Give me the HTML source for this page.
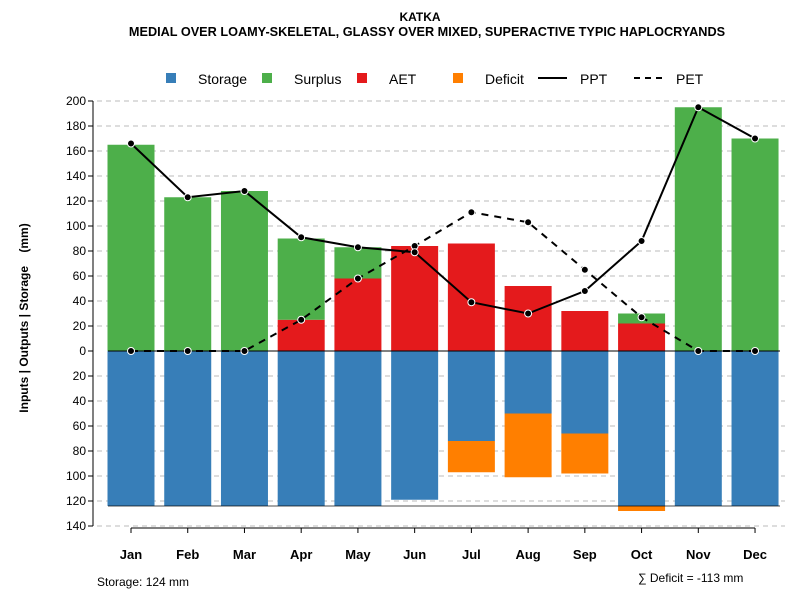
<!DOCTYPE html>
<html><head><meta charset="utf-8"><style>
body{margin:0;background:#fff;}
svg text{font-family:"Liberation Sans",Arial,sans-serif;}
</style></head><body>
<svg id="chart" width="800" height="600" xmlns="http://www.w3.org/2000/svg">
<text x="420" y="21" text-anchor="middle" font-size="12" font-weight="bold">KATKA</text>
<text x="427" y="36" text-anchor="middle" font-size="12.7" font-weight="bold">MEDIAL OVER LOAMY-SKELETAL, GLASSY OVER MIXED, SUPERACTIVE TYPIC HAPLOCRYANDS</text>
<g id="legend">
<rect x="166" y="73" width="10" height="10" fill="#377EB8"/>
<text x="198" y="84" font-size="14">Storage</text>
<rect x="262" y="73" width="10" height="10" fill="#4DAF4A"/>
<text x="294" y="84" font-size="14">Surplus</text>
<rect x="357" y="73" width="10" height="10" fill="#E41A1C"/>
<text x="389" y="84" font-size="14">AET</text>
<rect x="453" y="73" width="10" height="10" fill="#FF7F00"/>
<text x="485" y="84" font-size="14">Deficit</text>
<line x1="538" y1="78" x2="567" y2="78" stroke="#000" stroke-width="2"/>
<text x="580" y="84" font-size="14">PPT</text>
<line x1="634" y1="78" x2="663" y2="78" stroke="#000" stroke-width="2" stroke-dasharray="6,5"/>
<text x="676" y="84" font-size="14">PET</text>
</g>
<text transform="translate(28,318) rotate(-90)" text-anchor="middle" font-size="12" font-weight="bold" xml:space="preserve" style="white-space:pre">Inputs | Outputs | Storage    (mm)</text>
<text x="97" y="586" font-size="12">Storage: 124 mm</text>
<text x="638" y="582" font-size="12">∑ Deficit = -113 mm</text>
<g id="grid"></g><g id="bars"></g><g id="lines"></g><g id="axes"></g>
</svg>
<script>
const months=["Jan","Feb","Mar","Apr","May","Jun","Jul","Aug","Sep","Oct","Nov","Dec"];
const storage=[124,124,124,124,124,119,72,50,66,124,124,124];
const deficit=[0,0,0,0,0,0,25,51,32,4,0,0];
const aet=[0,0,0,25,58,84,86,52,32,22,0,0];
const surplus=[165,123,128,65,25,0,0,0,0,8,195,170];
const ppt=[166,123,128,91,83,79,39,30,48,88,195,170];
const pet=[0,0,0,25,58,84,111,103,65,27,0,0];
const yTicks=[200,180,160,140,120,100,80,60,40,20,0,-20,-40,-60,-80,-100,-120,-140];
const storageMax=124;
const NS="http://www.w3.org/2000/svg";
const y=v=>351-v*1.25;
const x=i=>131+i*56.73;
const bw=47;
function mk(tag,attrs,parent){const e=document.createElementNS(NS,tag);for(const k in attrs)e.setAttribute(k,attrs[k]);document.getElementById(parent).appendChild(e);return e;}
yTicks.forEach(t=>{
 if(t!==0){const g=mk('line',{x1:97,x2:785,y1:y(t),y2:y(t),stroke:'#bbb','stroke-dasharray':'5,4'},'grid');
 
 }
 const tk=mk('line',{x1:88,x2:93,y1:y(t),y2:y(t),stroke:'#000'},'axes');
 
 
 const tx=mk('text',{x:86,y:y(t)+4,'text-anchor':'end','font-size':12},'axes');
 tx.textContent=Math.abs(t);
 
 
});
const ax=mk('line',{x1:93,x2:93,y1:y(200),y2:y(-140),stroke:'#000'},'axes');


months.forEach((m,i)=>{
 const cx=x(i),l=cx-bw/2;
 const add=(v0,v1,c,n)=>{if(v1===v0)return;const r=mk('rect',{x:l,width:bw,y:Math.min(y(v0),y(v1)),height:Math.abs(y(v1)-y(v0)),fill:c},'bars');
  
  };
 add(0,-storage[i],'#377EB8','bar-storage-'+m.toLowerCase());
 add(-storage[i],-storage[i]-deficit[i],'#FF7F00','bar-deficit-'+m.toLowerCase());
 add(0,aet[i],'#E41A1C','bar-aet-'+m.toLowerCase());
 add(aet[i],aet[i]+surplus[i],'#4DAF4A','bar-surplus-'+m.toLowerCase());
 const tk=mk('line',{x1:cx,x2:cx,y1:y(-140)+2,y2:y(-140)+7,stroke:'#000'},'axes');
 
 
 const t=mk('text',{x:cx,y:559,'text-anchor':'middle','font-size':13,'font-weight':'bold'},'axes');
 t.textContent=m;
 
 
});
const xa=mk('line',{x1:x(0),x2:x(11),y1:y(-140)+2,y2:y(-140)+2,stroke:'#000'},'axes');


const z=mk('line',{x1:108,x2:780,y1:y(0),y2:y(0),stroke:'#000'},'lines');


const sl=mk('line',{x1:108,x2:780,y1:y(-storageMax),y2:y(-storageMax),stroke:'#000','stroke-opacity':0.7},'lines');


function series(vals,dash,name){
 const p=mk('polyline',{points:vals.map((v,i)=>x(i)+','+y(v)).join(' '),fill:'none',stroke:'#000','stroke-width':2,'stroke-dasharray':dash},'lines');
 
 
 vals.forEach((v,i)=>{const c=mk('circle',{cx:x(i),cy:y(v),r:3.5,fill:'#000',stroke:'#fff','stroke-width':1},'lines');
  
  });
}
series(pet,'7,6','pet');
series(ppt,'none','ppt');
</script>
</body></html>
